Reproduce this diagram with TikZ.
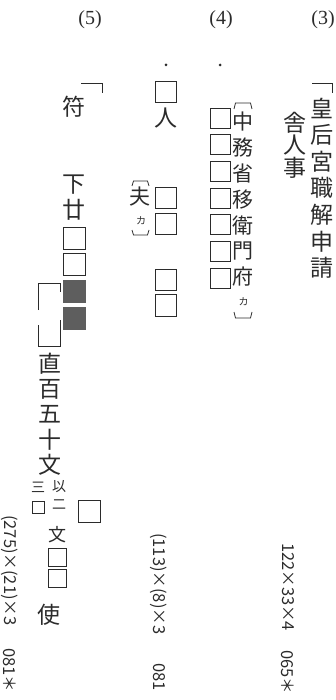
\documentclass[tikz,border=0pt]{standalone}
\usepackage{fontspec}
\setmainfont{Liberation Serif}
\newfontfamily\jp{Noto Sans CJK JP}
\definecolor{ink}{HTML}{2B2B2B}
\definecolor{shade}{HTML}{5E5E5E}
\begin{document}
\begin{tikzpicture}[x=1pt,y=-1pt,
  hdr/.style={font=\fontsize{20}{20}\selectfont, inner sep=0pt, text=ink},
  ch/.style={font=\jp\fontsize{23}{23}\selectfont, inner sep=0pt, text=ink},
  chm/.style={font=\jp\fontsize{21}{21}\selectfont, inner sep=0pt, text=ink},
  chs/.style={font=\jp\fontsize{14}{14}\selectfont, inner sep=0pt, text=ink},
  kana/.style={font=\jp\fontsize{10}{10}\selectfont, inner sep=0pt, text=ink},
  meas/.style={font=\jp\fontsize{16.5}{16.5}\selectfont, inner sep=0pt, text=ink, rotate=-90, anchor=west},
  sq/.style={draw=ink, line width=0.9pt, minimum size=#1, inner sep=0pt},
  sqf/.style={draw=shade, fill=shade, line width=0.9pt, minimum size=#1, inner sep=0pt},
  dot/.style={circle, fill=ink, minimum size=3pt, inner sep=0pt},
  brk/.style={draw=ink, line width=0.8pt}
]
\useasboundingbox (0,0) rectangle (335,700);
% headers
\node[hdr] (h5) at (90,20) {(5)};
\node[hdr] (h4) at (221,20) {(4)};
\node[hdr] (h3) at (323,20) {(3)};

% ---------- column (3)
\draw[brk] (312,83) -- (332.5,83) -- (332.5,93);
\foreach \c [count=\i from 0] in {皇,后,宮,職,解,申,請}
  \node[ch] (ca\i) at (322,{108+26.7*\i}) {\c};
\foreach \c [count=\i from 0] in {舎,人,事}
  \node[ch] (cb\i) at (295,{123+22.5*\i}) {\c};
\node[meas] (m3a) at (288,543) {122×33×4};
\node[meas] (m3b) at (288,650) {065＊};

% ---------- column (4)
\node[dot] (d4a) at (220,65) {};
\foreach \i in {0,...,6}
  \node[sq=20pt] (bx\i) at (220,{118+26.7*\i}) {};
\foreach \c [count=\i from 0] in {中,務,省,移,衛,門,府}
  \node[chm] (cc\i) at (243,{122+25.8*\i}) {\c};
\node[kana] (cck) at (243.5,302) {カ};
\draw[brk] (234,109) -- (235.5,103) -- (250.5,103) -- (252,109);
\draw[brk] (234,312) -- (235.5,318) -- (250.5,318) -- (252,312);

\node[dot] (d4b) at (166,65) {};
\node[sq=21.5pt] (be0) at (166,92) {};
\node[ch] (ce1) at (166,118) {人};
\node[chm] (cf0) at (140,197) {夫};
\node[kana] (cfk) at (141,221) {カ};
\draw[brk] (132,186) -- (133.5,181) -- (147.5,181) -- (149,186);
\draw[brk] (132,230) -- (133.5,235) -- (147.5,235) -- (149,230);
\node[sq=21.5pt] (bf1) at (166,198) {};
\node[sq=21.5pt] (bf2) at (166,224) {};
\node[sq=21.5pt] (bg1) at (166,280) {};
\node[sq=21.5pt] (bg2) at (166,305.5) {};
\node[meas] (m4a) at (159,533) {(113)×(8)×3};
\node[meas] (m4b) at (159,663) {081};

% ---------- column (5)
\draw[brk] (81,83) -- (102,83) -- (102,93);
\node[ch] (cg0) at (74,107) {符};
\node[ch] (ch0) at (74,185) {下};
\node[ch] (ch1) at (74,210) {廿};
\node[sq=22pt] (bh2) at (74,238.5) {};
\node[sq=22pt] (bh3) at (74,264.5) {};
\node[sqf=22pt] (bh4) at (74,291) {};
\node[sqf=22pt] (bh5) at (74,318) {};
\draw[brk] (38,310) -- (38,283) -- (60,283) -- (60,292);
\draw[brk] (38,325) -- (38,346) -- (60,346) -- (60,320);
\foreach \c [count=\i from 0] in {直,百,五,十,文}
  \node[ch] (ci\i) at (50,{364+25.3*\i}) {\c};
\node[chs] (cj0) at (59,487) {以};
\node[chs] (cj1) at (59,505) {二};
\node[chs] (ck0) at (38,487) {三};
\node[sq=12pt] (ck1) at (38,507) {};
\node[font=\jp\fontsize{18}{18}\selectfont, inner sep=0pt, text=ink] (cj2) at (57,535) {文};
\node[sq=18pt] (cj3) at (57,557) {};
\node[sq=18pt] (cj4) at (57,578) {};
\node[sq=22pt] (cl0) at (89,511) {};
\node[ch] (cm0) at (49,615) {使};
\node[meas] (m5a) at (10,515) {(275)×(21)×3};
\node[meas] (m5b) at (10,648) {081＊};
\end{tikzpicture}
\end{document}
